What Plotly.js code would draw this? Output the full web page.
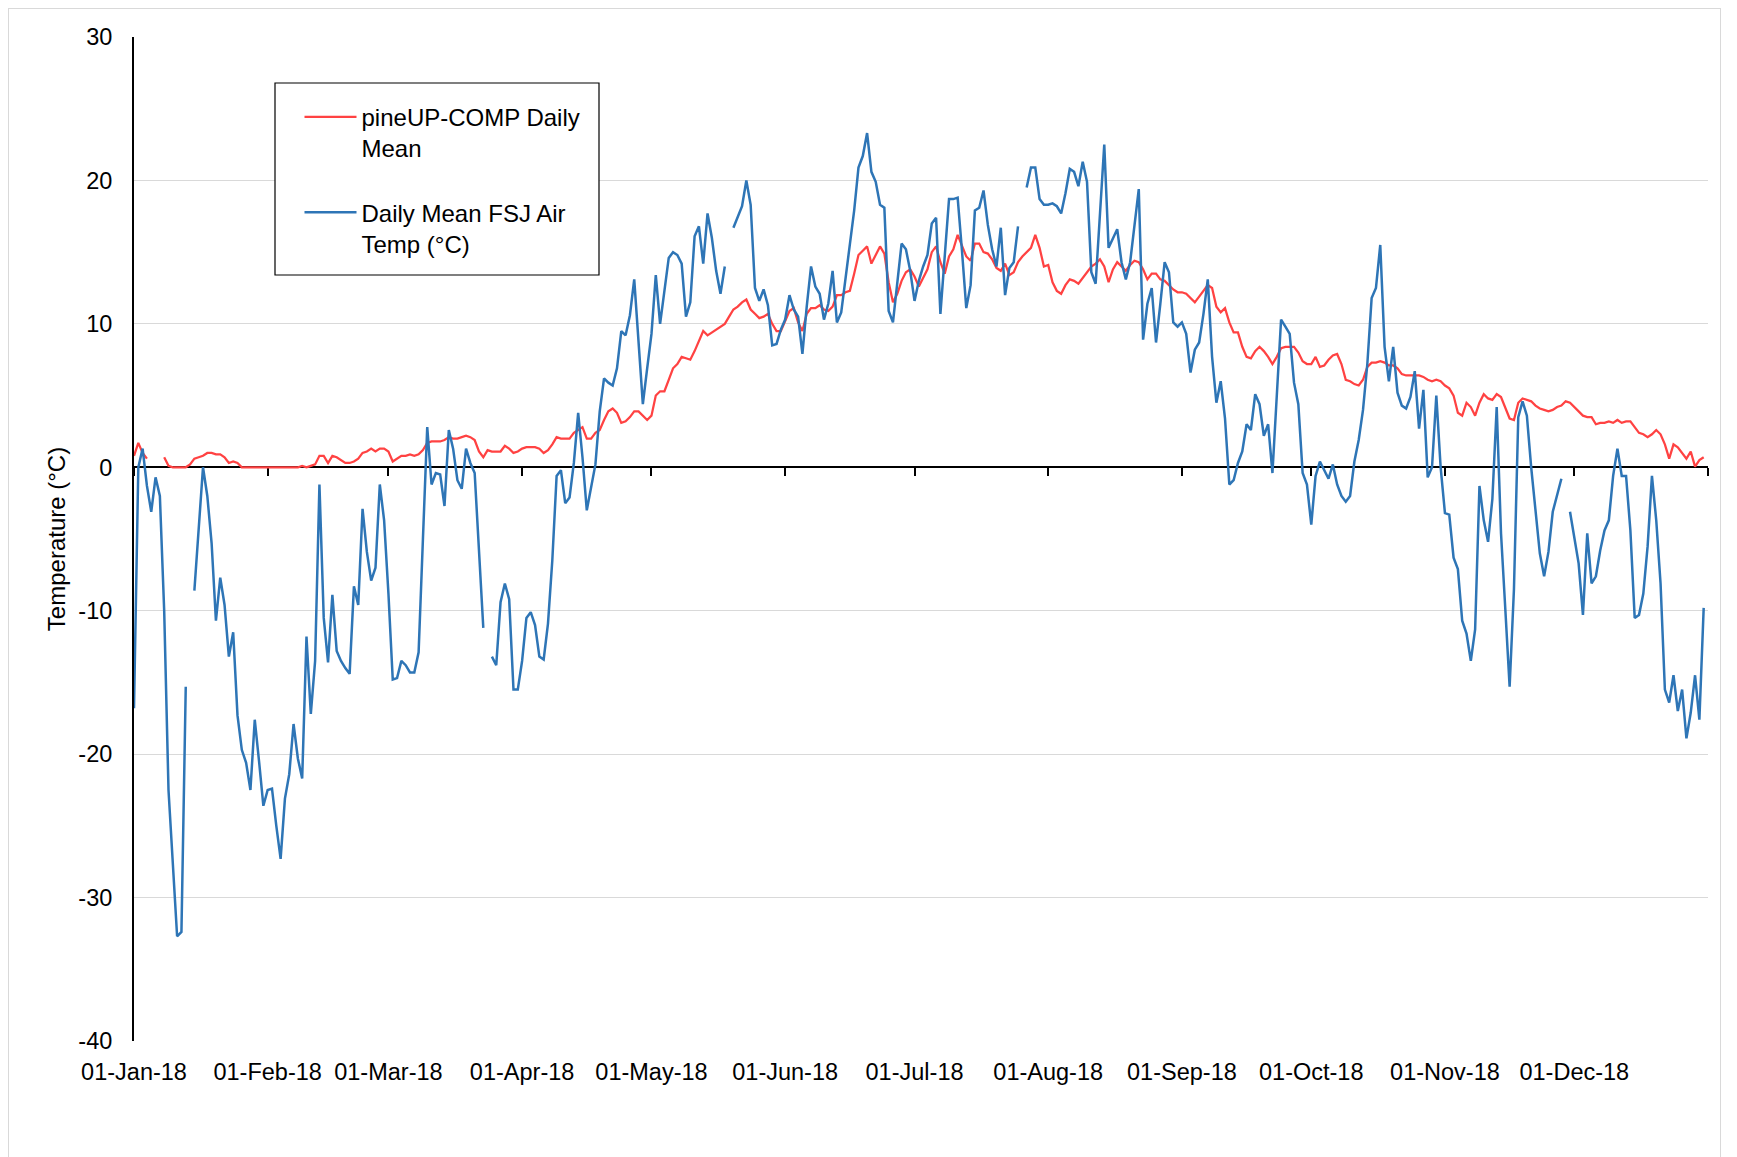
<!DOCTYPE html>
<html>
<head>
<meta charset="utf-8">
<script src="https://cdn.plot.ly/plotly-3.0.1.min.js"></script>
<style>
  html, body { margin:0; padding:0; background:#fff; }
  #chart { position:absolute; left:0; top:0; width:1737px; height:1157px; }
  #frame { position:absolute; left:8px; top:8px; width:1711px; height:1170px; border:1.5px solid #d9d9d9; pointer-events:none; }
</style>
</head>
<body>
<div id="chart"></div>
<div id="frame"></div>
<script>
// ---- Daily Mean FSJ Air Temp (°C), by month ----
const blueJan = [-16.8, 0.0, 1.3, -1.3, -3.1, -0.7, -2.0, -10, -22.5, -28, -32.7, -32.4, -15.3, null, -8.6, -4, 0, -2, -5.3, -10.7, -7.7, -9.6, -13.2, -11.5, -17.3, -19.7, -20.6, -22.5, -17.6, -20.5, -23.6];
const blueFeb = [-22.5, -22.4, -25, -27.3, -23.1, -21.4, -17.9, -20.3, -21.7, -11.8, -17.2, -13.5, -1.2, -10.5, -13.6, -8.9, -12.8, -13.5, -14, -14.4, -8.3, -9.6, -2.9, -5.9, -7.9, -7, -1.2, -3.7];
const blueMar = [-8.8, -14.8, -14.7, -13.5, -13.8, -14.3, -14.3, -12.9, -5, 2.8, -1.2, -0.4, -0.5, -2.7, 2.6, 1.3, -0.9, -1.5, 1.3, 0.3, -0.4, -5.5, -11.2, null, -13.2, -13.8, -9.4, -8.1, -9.2, -15.5, -15.5];
const blueApr = [-13.5, -10.5, -10.1, -11, -13.2, -13.4, -10.9, -6.5, -0.6, -0.2, -2.5, -2.1, 0.3, 3.8, 0.7, -3.0, -1.4, 0.2, 3.9, 6.2, 5.9, 5.7, 6.9, 9.5, 9.2, 10.6, 13.1, 8.8, 4.4, 6.9];
const blueMay = [9.3, 13.4, 10.0, 12.3, 14.6, 15.0, 14.8, 14.2, 10.5, 11.5, 16.1, 16.8, 14.2, 17.7, 16.0, 13.7, 12.1, 14.0, null, 16.7, 17.4, 18.2, 20.0, 18.3, 12.5, 11.6, 12.4, 11.3, 8.5, 8.6, 9.6];
const blueJun = [10.3, 12.0, 11.0, 10.5, 7.9, 11.2, 14.0, 12.6, 12.1, 10.3, 11.4, 13.7, 10.1, 10.8, 13.1, 15.2, 17.9, 20.9, 21.7, 23.3, 20.6, 19.9, 18.3, 18.1, 10.9, 10.1, 13.0, 15.6, 15.2, 13.7];
const blueJul = [11.6, 13.0, 14.0, 14.8, 17.0, 17.4, 10.7, 14.4, 18.7, 18.7, 18.8, 15.1, 11.1, 12.7, 17.9, 18.1, 19.3, 16.9, 15.2, 14.0, 16.7, 12.0, 13.9, 14.3, 16.8, null, 19.5, 20.9, 20.9, 18.7, 18.3];
const blueAug = [18.3, 18.4, 18.2, 17.7, 19.1, 20.8, 20.6, 19.6, 21.3, 19.9, 13.6, 12.8, 17.5, 22.5, 15.3, 16.0, 16.6, 14.3, 13.1, 14.3, 16.7, 19.4, 8.9, 11.4, 12.5, 8.7, 11.4, 14.3, 13.6, 10.1, 9.8];
const blueSep = [10.1, 9.3, 6.6, 8.2, 8.7, 10.7, 13.1, 7.7, 4.5, 6.0, 3.4, -1.2, -0.9, 0.3, 1.1, 3.0, 2.6, 5.1, 4.4, 2.2, 3.0, -0.4, 5.4, 10.3, 9.8, 9.3, 5.9, 4.4, -0.4, -1.2];
const blueOct = [-4.0, -0.6, 0.4, -0.2, -0.8, 0.2, -1.2, -2.0, -2.4, -2.0, 0.4, 1.9, 4.0, 7.2, 11.8, 12.5, 15.5, 8.4, 6.0, 8.4, 5.2, 4.3, 4.1, 4.9, 6.7, 2.7, 5.4, -0.7, 0, 5.0, 0];
const blueNov = [-3.2, -3.3, -6.3, -7.1, -10.7, -11.6, -13.5, -11.3, -1.3, -3.7, -5.2, -2.2, 4.2, -4.6, -9.9, -15.3, -8.5, 3.5, 4.6, 3.6, 0, -3.2, -6.0, -7.6, -5.9, -3.1, -1.9, -0.8, null, -3.1];
const blueDec = [-4.9, -6.7, -10.3, -4.6, -8.1, -7.6, -5.8, -4.4, -3.7, -0.6, 1.3, -0.6, -0.6, -4.4, -10.5, -10.3, -8.8, -5.5, -0.6, -3.7, -8.1, -15.5, -16.4, -14.5, -17.0, -15.5, -18.9, -17.1, -14.5, -17.6, -9.8];

// ---- pineUP-COMP Daily Mean (°C), by month ----
const redJan = [0.8, 1.7, 1.0, 0.6, null, null, null, 0.7, 0.1, 0, 0, 0, 0, 0.2, 0.6, 0.7, 0.8, 1.0, 1.0, 0.9, 0.9, 0.7, 0.3, 0.4, 0.3, 0, 0, 0, 0, 0, 0];
const redFeb = [0, 0, 0, 0, 0, 0, 0, 0, 0.1, 0, 0.1, 0.2, 0.8, 0.8, 0.3, 0.8, 0.7, 0.5, 0.3, 0.3, 0.4, 0.6, 1.0, 1.1, 1.3, 1.1, 1.3, 1.3];
const redMar = [1.1, 0.4, 0.6, 0.8, 0.8, 0.9, 0.8, 0.9, 1.2, 1.7, 1.8, 1.8, 1.8, 1.9, 2.1, 2.0, 2.0, 2.1, 2.2, 2.1, 1.9, 1.1, 0.7, 1.2, 1.1, 1.1, 1.1, 1.5, 1.3, 1.0, 1.1];
const redApr = [1.3, 1.4, 1.4, 1.4, 1.3, 1.0, 1.2, 1.6, 2.1, 2.0, 2.0, 2.0, 2.4, 2.6, 2.8, 2.0, 2.0, 2.4, 2.6, 3.3, 3.9, 4.1, 3.8, 3.1, 3.2, 3.5, 3.9, 3.9, 3.6, 3.3];
const redMay = [3.6, 5.0, 5.3, 5.3, 6.1, 6.9, 7.2, 7.7, 7.6, 7.5, 8.1, 8.8, 9.5, 9.2, 9.4, 9.6, 9.8, 10.0, 10.5, 11.0, 11.2, 11.5, 11.7, 11.0, 10.7, 10.4, 10.5, 10.7, 10.0, 9.5, 9.5];
const redJun = [10.2, 10.9, 11.1, 10.1, 9.5, 10.7, 11.1, 11.1, 11.3, 11.0, 10.9, 11.2, 12.0, 12.0, 12.2, 12.3, 13.5, 14.8, 15.1, 15.4, 14.2, 14.8, 15.4, 14.9, 12.9, 11.5, 12.1, 13.0, 13.6, 13.8];
const redJul = [13.3, 12.6, 13.2, 13.8, 15.0, 15.4, 14.3, 13.5, 14.7, 15.2, 16.2, 15.5, 14.7, 14.4, 15.6, 15.6, 15.0, 14.9, 14.5, 13.9, 13.7, 14.2, 13.4, 13.6, 14.3, 14.7, 15.0, 15.3, 16.2, 15.3, 14.0];
const redAug = [14.1, 12.9, 12.3, 12.1, 12.7, 13.1, 13.0, 12.8, 13.2, 13.6, 14.0, 14.2, 14.5, 14.0, 12.9, 13.8, 14.3, 14.0, 13.7, 14.1, 14.4, 14.3, 13.8, 13.1, 13.5, 13.5, 13.1, 13.0, 12.7, 12.4, 12.2];
const redSep = [12.2, 12.1, 11.8, 11.5, 11.9, 12.3, 12.7, 12.5, 11.2, 10.8, 11.1, 10.1, 9.4, 9.4, 8.4, 7.7, 7.6, 8.1, 8.4, 8.1, 7.7, 7.2, 7.7, 8.3, 8.4, 8.4, 8.4, 8.0, 7.4, 7.2];
const redOct = [7.2, 7.7, 7.0, 7.1, 7.5, 7.8, 7.9, 7.2, 6.1, 6.0, 5.8, 5.7, 6.1, 7.0, 7.3, 7.3, 7.4, 7.3, 7.1, 7.1, 6.9, 6.5, 6.4, 6.4, 6.4, 6.4, 6.3, 6.1, 6.0, 6.1, 6.0];
const redNov = [5.7, 5.5, 5.0, 3.8, 3.6, 4.5, 4.2, 3.6, 4.5, 5.1, 4.8, 4.7, 5.1, 4.9, 4.2, 3.4, 3.3, 4.5, 4.8, 4.7, 4.6, 4.3, 4.1, 4.0, 3.9, 4.0, 4.2, 4.3, 4.6, 4.5];
const redDec = [4.2, 3.9, 3.6, 3.5, 3.5, 3.0, 3.1, 3.1, 3.2, 3.1, 3.3, 3.1, 3.2, 3.2, 2.8, 2.4, 2.3, 2.1, 2.3, 2.6, 2.3, 1.6, 0.6, 1.6, 1.4, 1.0, 0.6, 1.1, 0.05, 0.5, 0.7];

// ---- axis ticks ----
const monthTicks = ['2018-01-01','2018-02-01','2018-03-01','2018-04-01','2018-05-01','2018-06-01','2018-07-01','2018-08-01','2018-09-01','2018-10-01','2018-11-01','2018-12-01'];
const monthLabels = ['01-Jan-18','01-Feb-18','01-Mar-18','01-Apr-18','01-May-18','01-Jun-18','01-Jul-18','01-Aug-18','01-Sep-18','01-Oct-18','01-Nov-18','01-Dec-18'];
const yearEnd = '2019-01-01';
const yTicks = [30, 20, 10, 0, -10, -20, -30, -40];
const yTickLabels = ['30', '20', '10', '0', '-10', '-20', '-30', '-40'];

const seriesNames = ['pineUP-COMP Daily<br>Mean', 'Daily Mean FSJ Air<br>Temp (°C)'];

const blue = [].concat(blueJan, blueFeb, blueMar, blueApr, blueMay, blueJun, blueJul, blueAug, blueSep, blueOct, blueNov, blueDec);
const red = [].concat(redJan, redFeb, redMar, redApr, redMay, redJun, redJul, redAug, redSep, redOct, redNov, redDec);

// one date per daily value, starting 1 Jan 2018
const dates = blue.map((_, i) => new Date(Date.UTC(2018, 0, 1 + i)).toISOString().slice(0, 10));

const FONT = 'Liberation Sans, Arial, Helvetica, sans-serif';

// pixel helpers for the plot area (l=134, t=37, w=1574, h=1004)
const px = v => (v - 134) / 1574;
const py = v => 1 - (v - 37) / 1004;

const traces = [
  { x: dates, y: red, type: 'scatter', mode: 'lines', name: seriesNames[0], legendgroup: 'a',
    line: { color: '#FF4242', width: 2.25 }, connectgaps: false, hoverinfo: 'x+y' },
  { x: dates, y: blue, type: 'scatter', mode: 'lines', name: seriesNames[1], legendgroup: 'b',
    line: { color: '#2E75B6', width: 2.5 }, connectgaps: false, hoverinfo: 'x+y' },
  { x: [dates[0]], y: [null], xaxis: 'x2', yaxis: 'y', type: 'scatter', mode: 'lines',
    showlegend: false, hoverinfo: 'skip' }
];

const layout = {
  width: 1737, height: 1157,
  margin: { l: 134, r: 29, t: 37, b: 116, pad: 0 },
  paper_bgcolor: '#ffffff', plot_bgcolor: '#ffffff',
  font: { family: FONT, size: 23.5, color: '#000000' },
  showlegend: true,
  legend: {
    x: px(299.5), y: py(94.7), xanchor: 'left', yanchor: 'top',
    bgcolor: 'rgba(0,0,0,0)', borderwidth: 0,
    font: { family: FONT, size: 24, color: '#000000' },
    valign: 'top', traceorder: 'grouped', tracegroupgap: 30,
    itemwidth: 52
  },
  shapes: [
    { type: 'rect', xref: 'paper', yref: 'paper', x0: px(275), x1: px(599), y0: py(275), y1: py(83),
      line: { color: '#000000', width: 1.2 }, fillcolor: '#ffffff', layer: 'above' }
  ],
  xaxis: {
    type: 'date', range: ['2018-01-01', yearEnd],
    tickmode: 'array', tickvals: monthTicks, ticktext: monthLabels,
    showgrid: false, showline: false, zeroline: false, ticks: '',
    ticklabelstandoff: 14, tickfont: { family: FONT, size: 23.5, color: '#000' },
    fixedrange: true
  },
  xaxis2: {
    type: 'date', range: ['2018-01-01', yearEnd], overlaying: 'x', anchor: 'free', position: 40 / 70,
    tickmode: 'array', tickvals: monthTicks.concat([yearEnd]), showticklabels: false,
    ticks: 'outside', ticklen: 8, tickwidth: 2, tickcolor: '#000',
    showline: true, linecolor: '#000', linewidth: 2, showgrid: false, zeroline: false,
    layer: 'below traces', fixedrange: true
  },
  yaxis: {
    range: [-40, 30], tickmode: 'array', tickvals: yTicks, ticktext: yTickLabels,
    showgrid: true, gridcolor: '#d9d9d9', gridwidth: 1.2, zeroline: false,
    showline: true, linecolor: '#000', linewidth: 2, ticks: '',
    ticklabelstandoff: 15, tickfont: { family: FONT, size: 23.5, color: '#000' },
    title: { text: 'Temperature (°C)', font: { family: FONT, size: 24, color: '#000' }, standoff: 6 },
    fixedrange: true
  }
};

Plotly.newPlot('chart', traces, layout, { displayModeBar: false, staticPlot: true });
</script>
</body>
</html>
